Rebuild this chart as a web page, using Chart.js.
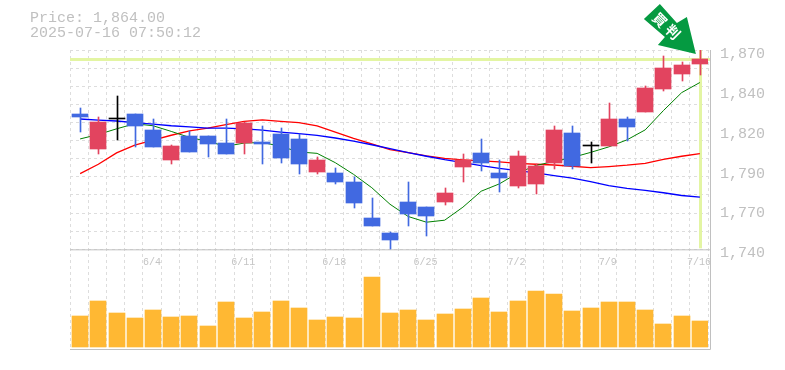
<!DOCTYPE html>
<html><head><meta charset="utf-8">
<style>html,body{margin:0;padding:0;background:#fff}canvas{display:block}</style>
<script src="https://cdn.jsdelivr.net/npm/chart.js@4"></script>
</head><body><canvas id="c" width="785" height="370"></canvas>
<script>
const categories=['5/29','5/30','6/2','6/3','6/4','6/5','6/6','6/9','6/10','6/11','6/12','6/13','6/16','6/17','6/18','6/19','6/20','6/23','6/24','6/25','6/26','6/27','6/30','7/1','7/2','7/3','7/4','7/7','7/8','7/9','7/10','7/11','7/14','7/15','7/16'];
const tickDates=['6/4','6/11','6/18','6/25','7/2','7/9','7/16'];
const opens =[1828.4,1805.7,1825,1828.4,1818,1798.5,1814.1,1814.1,1809.6,1809.6,1810.2,1815.4,1812.2,1790.7,1790,1784.2,1760.2,1750.4,1770.6,1767.3,1770.6,1794,1803.1,1790,1781.6,1782.9,1796.6,1816,1807.3,1807.6,1825.2,1829.7,1844.7,1854.4,1860.9];
const closes=[1826.5,1823.2,1825,1820.6,1807,1807.6,1803.7,1808.9,1802.4,1822.6,1808.9,1799.8,1795.9,1798.5,1783.6,1769.9,1755,1745.9,1762.8,1761.5,1777,1798.5,1796.6,1786.8,1801.1,1794.6,1818,1794.6,1807.3,1825.2,1820,1845.3,1858.3,1860.3,1864];
const highs =[1832.3,1826.5,1840.1,1828.4,1825.2,1808.3,1817.4,1814.1,1825.2,1823.2,1820.6,1819.3,1815.4,1800.5,1793.3,1787.5,1773.2,1751,1783.6,1767.3,1780.3,1802.4,1812.2,1798.5,1804.4,1795.9,1820.6,1820.6,1810.2,1835.6,1826.5,1846.6,1866.1,1862.2,1870];
const lows  =[1816.7,1802.4,1811.5,1807,1807,1795.9,1803.7,1800.5,1802.4,1802.4,1795.9,1796.6,1789.4,1789.4,1782.9,1766.7,1755,1740,1755,1748.5,1768.6,1783.6,1791.4,1777.7,1779.7,1776.4,1792.7,1792.7,1796.6,1807.6,1810.9,1829.7,1843.4,1849.9,1853.8];
const maShort=[1812,1814.9,1818.6,1821.9,1820.6,1816.9,1813,1810.4,1807.2,1809.3,1809.7,1807.2,1803.5,1802.6,1796.5,1788.9,1780.2,1769.4,1761.4,1757.7,1759,1767.5,1777.9,1782.7,1789.7,1794.7,1797.3,1799.9,1803.2,1806.8,1811.4,1817.9,1830.5,1842.2,1848.8];
const maMid  =[1789.4,1795.5,1802.9,1807.9,1811.2,1814.4,1817.3,1819,1821.4,1823.5,1824.4,1823.5,1822.7,1820.5,1816.4,1812.3,1808.8,1805,1803,1801,1799.3,1798.4,1797.7,1797,1796.1,1795.5,1795,1794.2,1793.3,1794,1794.9,1796.1,1798.7,1800.7,1802.4];
const maLong =[1825,1824.3,1823.7,1822.6,1821.7,1820.6,1819.8,1819.1,1819.1,1818.5,1817.8,1816.5,1815.4,1814.3,1812.6,1810.6,1808.2,1805.7,1803,1800.7,1798.5,1796.6,1794.6,1792.8,1791.3,1789.8,1788.1,1786.4,1784.2,1781.6,1779.8,1778.4,1776.9,1775.1,1774];
const volumes=[30.7,45.7,33.7,28.7,36.7,29.7,30.7,20.7,44.7,28.7,34.7,45.7,38.7,26.7,29.7,28.7,70.7,33.7,36.7,26.7,32.7,37.7,48.7,34.7,45.7,55.7,52.7,35.7,38.7,44.7,44.7,36.7,22.7,30.7,25.7];
const priceTicks=[1870,1844,1818,1792,1766,1740];
const priceLabels=['1,870','1,840','1,820','1,790','1,770','1,740'];
const headerLines=['Price: 1,864.00','2025-07-16 07:50:12'];
const lastPrice=1864;
const arrowChars=['買','判'];

const RED='#e2445f',BLUE='#4169e1',BLACK='#000000',FRAME='#c0c0c0';
const n=categories.length;
const candleColors=categories.map((_,i)=>closes[i]>opens[i]?RED:(closes[i]<opens[i]?BLUE:BLACK));
const overlay={id:'overlay',
 afterDatasetsUpdate(ch){
  // snap marks to whole pixels, one pixel right of the band centre
  [0,2].forEach(d=>ch.getDatasetMeta(d).data.forEach(e=>{e.x=Math.round(e.x+1);e.y=Math.round(e.y);e.base=Math.round(e.base);}));
  ch.getDatasetMeta(1).data.forEach(e=>{e.x=Math.round(e.x+1)+0.5;e.y=Math.round(e.y);e.base=Math.round(e.base);});
  [3,4,5].forEach(d=>ch.getDatasetMeta(d).data.forEach(e=>{e.x+=1;}));
 },
 beforeDatasetsDraw(ch){const {ctx,chartArea:a,scales:s}=ch;ctx.save();
  const y=s.y.getPixelForValue(lastPrice),x=s.x.getPixelForValue(n-1)+1,b=s.y.getPixelForValue(1740);
  ctx.fillStyle='#e3f5a3';
  ctx.fillRect(a.left,Math.round(y)-1,a.right+2-a.left,3);
  ctx.fillRect(Math.round(x)-1,a.top,3,b-a.top-1);
  ctx.strokeStyle=FRAME;ctx.lineWidth=1;ctx.beginPath();
  ctx.moveTo(a.left,b+0.5);ctx.lineTo(a.right+2,b+0.5);
  ctx.moveTo(a.left,a.bottom+0.5);ctx.lineTo(a.right+2.5,a.bottom+0.5);
  ctx.moveTo(a.right+2.5,a.top);ctx.lineTo(a.right+2.5,a.bottom+0.5);
  ctx.stroke();ctx.restore();},
 afterDraw(ch){const {ctx,scales:s}=ch;ctx.save();
  ctx.fillStyle='#c0c0c0';ctx.font='15px "Liberation Mono"';ctx.textBaseline='middle';
  ctx.fillText(headerLines[0],30,18);ctx.fillText(headerLines[1],30,33);
  const tx=s.x.getPixelForValue(n-1)-3,ty=s.y.getPixelForValue(1870)+4;
  ctx.translate(tx,ty);
  ctx.fillStyle='#059a41';ctx.beginPath();
  [[0,0],[-9,-37],[-19,-31],[-36,-50],[-52,-35],[-31,-17],[-38,-9]].forEach((p,i)=>i?ctx.lineTo(p[0],p[1]):ctx.moveTo(p[0],p[1]));
  ctx.closePath();ctx.fill();
  ctx.fillStyle='#fff';ctx.font='bold 14px "Noto Sans CJK JP"';ctx.textAlign='center';ctx.textBaseline='middle';
  [[-36,-34],[-23,-22]].forEach((p,i)=>{ctx.save();ctx.translate(p[0],p[1]);ctx.rotate(Math.PI/4);ctx.fillText(arrowChars[i],0,0);ctx.restore();});
  ctx.restore();
 }};
new Chart(document.getElementById('c'),{
 data:{labels:categories,datasets:[
  {type:'bar',label:'Body',data:categories.map((_,i)=>[opens[i],closes[i]===opens[i]?closes[i]+0.65:closes[i]]),backgroundColor:candleColors,barThickness:16,grouped:false,yAxisID:'y',order:1},
  {type:'bar',label:'Wick',data:categories.map((_,i)=>[lows[i],highs[i]]),backgroundColor:candleColors,barThickness:1,grouped:false,yAxisID:'y',order:2},
  {type:'bar',label:'Volume',data:volumes,backgroundColor:'#ffb833',barThickness:16,grouped:false,yAxisID:'yVol',order:3},
  {type:'line',label:'MA short',data:maShort,borderColor:'#008000',borderWidth:1,pointRadius:0,tension:0,yAxisID:'y',order:5},
  {type:'line',label:'MA long',data:maLong,borderColor:'#0000ff',borderWidth:1.3,pointRadius:0,tension:0,yAxisID:'y',order:4},
  {type:'line',label:'MA mid',data:maMid,borderColor:'#ff0000',borderWidth:1.3,pointRadius:0,tension:0,yAxisID:'y',order:6}
 ]},
 options:{responsive:false,animation:false,devicePixelRatio:1,
  layout:{padding:{left:70,top:50,bottom:20,right:0}},
  plugins:{legend:{display:false},title:{display:false},tooltip:{enabled:false}},
  scales:{
   x:{type:'category',position:{y:1740},offset:true,
      grid:{offset:true,color:'#dddddd',drawTicks:false},border:{dash:[3,3],display:false},
      ticks:{autoSkip:false,maxRotation:0,minRotation:0,padding:7,color:'#c4c4c4',font:{family:'"Liberation Mono"',size:10},
        callback(v){const l=this.getLabelForValue(v);return tickDates.includes(l)?l:'';}}},
   y:{position:'right',min:1675,max:1870,
      afterBuildTicks(s){s.ticks=priceTicks.map(value=>({value}));},
      afterFit(s){s.width=77;},
      grid:{display:false,drawTicks:false},border:{display:false},
      ticks:{padding:12,labelOffset:4,color:'#c0c0c0',font:{family:'"Liberation Mono"',size:15},
        callback(v){return priceLabels[priceTicks.indexOf(v)];}}},
   yGrid:{position:'left',min:1675,max:1870,display:true,
      afterBuildTicks(s){s.ticks=Array.from({length:12},(_,k)=>({value:1740+k*130/11}));},
      afterFit(s){s.width=0;},
      grid:{color:'#dddddd',drawTicks:false},border:{display:false,dash:[3,3]},ticks:{display:false}},
   yVol:{position:'left',min:-2,max:298,display:false}
  }},
 plugins:[overlay]
});
</script></body></html>
